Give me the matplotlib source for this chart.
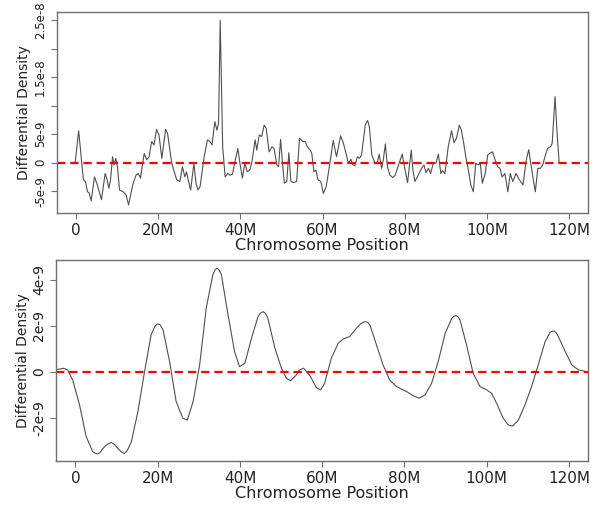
import numpy as np
import matplotlib
matplotlib.use("Agg")
import matplotlib.pyplot as plt

# raw differential density (top), positions in Mb, values in 1e-9
raw_pos = [-0.2, 0.65, 1.4, 1.8, 2.3, 2.8, 3.2, 3.7, 4.5, 5.2, 6.2, 7.1, 7.6, 8.0, 8.4,
           8.9, 9.25, 9.7, 10.1, 10.6, 11.5, 12.2, 12.8, 13.8, 14.6, 15.2, 15.7, 16.6, 17.2,
           17.8, 18.4, 19.0, 19.6, 20.2, 20.9, 21.8, 22.3, 23.3, 24.5, 25.3, 25.9, 26.5, 26.9,
           27.4, 27.9, 28.4, 28.7, 29.2, 29.7, 30.2, 31.2, 32.0, 32.6, 33.1, 33.8, 34.3, 34.7,
           35.1, 35.7, 36.3, 36.9, 37.5, 38.1, 38.6, 39.4, 39.9, 40.5, 41.1, 41.7, 42.3, 42.9,
           43.6, 44.0, 44.6, 45.2, 45.8, 46.3, 47.0, 47.7, 48.2, 48.9, 49.3, 49.8, 50.2, 50.7,
           51.3, 51.8, 52.3, 52.9, 53.7, 54.4, 55.2, 55.8, 56.3, 57.0, 57.4, 57.9, 58.4, 58.9,
           59.6, 60.2, 60.9, 61.8, 62.6, 63.4, 64.4, 65.1, 65.9, 66.3, 66.9, 67.4, 67.9, 68.5,
           69.0, 69.5, 70.4, 71.0, 71.4, 72.0, 72.8, 73.3, 73.8, 74.4, 74.8, 75.3, 75.8, 76.4,
           77.1, 77.7, 78.5, 79.4, 80.1, 80.7, 81.6, 82.0, 82.5, 83.3, 84.1, 84.7, 85.2, 85.8,
           86.3, 87.0, 87.6, 88.2, 88.8, 89.2, 89.8, 90.6, 91.4, 92.0, 92.6, 93.3, 93.8, 94.3,
           94.8, 95.5, 96.1, 96.7, 97.3, 97.9, 98.4, 98.9, 99.6, 100.2, 100.9, 101.4, 102.0,
           102.6, 103.2, 103.7, 104.4, 105.1, 105.7, 106.3, 107.1, 107.9, 108.8, 109.6, 110.2,
           110.8, 111.8, 112.4, 113.0, 113.6, 114.2, 114.8, 115.5, 115.9, 116.6, 117.1, 117.6]
raw_diff = [0.0, 5.6, -0.1, -3.0, -3.3, -5.1, -5.3, -6.7, -2.5, -3.9, -6.5, -1.9, -3.0, -4.5, -3.0,
            1.05, -0.4, 0.76, -0.7, -4.8, -5.1, -5.7, -7.4, -3.9, -2.2, -1.9, -2.7, 1.6, 0.5,
            1.05, 3.7, 3.1, 5.85, 4.85, 0.76, 5.85, 5.1, -0.1, -3.0, -3.3, -0.7, -2.5, -1.6,
            -3.3, -4.8, -1.9, -0.1, -3.6, -4.8, -4.2, 1.05, 4.0, 3.7, 3.1, 7.2, 5.7, 6.9,
            25.0, 2.8, -2.5, -1.9, -2.2, -2.0, -0.1, 2.5, -0.1, -2.7, -0.1, -1.6, -1.3, 0.5,
            4.0, 2.2, 4.85, 4.6, 6.6, 6.0, 1.9, 2.8, 2.5, -0.4, -0.7, 4.1, 0.5, -3.6,
            -3.3, 1.75, -3.3, -3.5, -3.3, 4.3, 3.7, 3.7, 2.8, 2.2, 1.6, -1.6, -1.3, -3.0,
            -3.3, -5.4, -4.2, -0.1, 3.9, 1.05, 4.7, 3.4, 1.05, -0.1, 0.6, -0.4, -0.5, 1.05,
            0.76, 1.35, 6.6, 7.4, 6.3, 1.35, -0.1, -0.1, 1.5, -1.0, 0.5, 3.3, -0.7, -2.2,
            -2.6, -2.2, -0.4, 1.5, -1.3, -3.5, 2.2, -1.3, -3.3, -2.2, -1.0, -0.4, -1.75, -1.0,
            -1.9, 0.0, -0.1, 1.5, -1.9, -1.4, -1.9, 2.8, 5.6, 3.5, 4.3, 6.6, 5.7, 3.7,
            1.35, -1.3, -3.9, -5.1, -0.1, -0.4, -0.1, -3.6, -1.9, 1.35, 1.75, 1.9, 0.5,
            -0.7, -1.0, -2.5, -1.9, -5.1, -1.9, -3.3, -1.9, -3.0, -3.9, 0.5, 2.3,
            -0.7, -5.1, -1.0, -1.0, -0.4, 1.2, 2.5, 2.8, 3.4, 11.6, 5.1, 0.0]

# smoothed differential density (bottom)
smooth_pos = [-4.9, -2.9, -1.9, -0.65, 1.0, 2.6, 4.2, 4.8, 5.3, 5.9, 6.7, 7.7, 8.7, 9.5, 10.3,
              11.2, 11.9, 12.6, 13.6, 15.2, 16.8, 18.4, 19.3, 20.0, 20.6, 21.3, 22.9, 24.5,
              26.1, 27.2, 28.6, 30.2, 31.8, 33.4, 33.9, 34.4, 34.9, 35.5, 37.1, 38.7, 39.9,
              41.2, 42.8, 44.4, 45.0, 45.6, 46.2, 46.8, 48.5, 50.1, 51.3, 52.3, 53.7, 54.5,
              55.5, 56.9, 58.6, 59.6, 60.6, 62.2, 63.9, 65.1, 66.7, 68.3, 69.4, 70.4, 71.0,
              71.6, 73.2, 74.8, 76.4, 78.1, 80.5, 82.1, 83.5, 85.0, 86.6, 88.2, 89.9, 91.5,
              92.0, 92.5, 93.0, 93.5, 95.1, 96.7, 98.4, 100.0, 101.2, 102.4, 104.0, 105.2,
              106.3, 107.7, 109.3, 110.9, 112.5, 114.2, 115.4, 115.9, 116.4, 116.9, 117.4,
              119.1, 120.7, 122.3, 124.3]
smooth_diff = [0.09, 0.16, 0.09, -0.35, -1.43, -2.8, -3.46, -3.53, -3.56, -3.52, -3.32, -3.15,
               -3.06, -3.15, -3.32, -3.48, -3.54, -3.42, -3.03, -1.72, 0.0, 1.61, 1.98, 2.09,
               2.05, 1.83, 0.45, -1.29, -2.01, -2.09, -1.29, 0.3, 2.77, 4.22, 4.43, 4.51,
               4.44, 4.22, 2.48, 0.88, 0.23, 0.38, 1.46, 2.41, 2.56, 2.62, 2.55, 2.33, 1.03,
               0.16, -0.28, -0.38, -0.13, 0.09, 0.16, -0.13, -0.68, -0.78, -0.49, 0.59, 1.25,
               1.43, 1.54, 1.9, 2.1, 2.19, 2.16, 2.04, 1.17, 0.3, -0.35, -0.64, -0.85, -1.03,
               -1.14, -1.0, -0.49, 0.45, 1.68, 2.33, 2.42, 2.45, 2.4, 2.26, 1.17, -0.06, -0.64,
               -0.78, -0.93, -1.36, -2.01, -2.30, -2.35, -2.09, -1.43, -0.64, 0.3, 1.32, 1.72,
               1.77, 1.78, 1.7, 1.54, 0.88, 0.3, 0.09, 0.01]

x_ticks = [0, 20, 40, 60, 80, 100, 120]
x_labels = ["0", "20M", "40M", "60M", "80M", "100M", "120M"]
top_yticks = [-5, 0, 5, 10, 15, 20, 25]
top_ylabels = ["-5e-9", "0", "5e-9", "", "1.5e-8", "", "2.5e-8"]
bot_yticks = [-2, 0, 2, 4]
bot_ylabels = ["-2e-9", "0", "2e-9", "4e-9"]

plt.rcParams['lines.scale_dashes'] = False

fig = plt.figure(figsize=(6.03, 5.08), dpi=100)
ax1 = fig.add_axes([0.094, 0.581, 0.881, 0.395])
ax2 = fig.add_axes([0.093, 0.092, 0.882, 0.396])


def style(ax, yt, yl, ysize):
    for s in ax.spines.values():
        s.set_color('#707070')
        s.set_linewidth(1.0)
    ax.set_xticks(x_ticks)
    ax.set_xticklabels(x_labels, fontsize=11, color='#222222')
    ax.set_yticks(yt)
    ax.set_yticklabels(yl, fontsize=ysize, rotation=90, va='center', color='#222222')
    ax.tick_params(length=4, width=0.8, color='#707070', pad=3)
    ax.set_xlim(-4.7, 124.6)
    ax.set_xlabel("Chromosome Position", fontsize=11.5, labelpad=0, color='#222222')
    ax.set_ylabel("Differential Density", fontsize=10, labelpad=2, color='#222222')
    ax.axhline(0, color='red', lw=1.6, dashes=(6, 3.5))


ax1.plot(raw_pos, raw_diff, color='#505050', lw=0.8)
style(ax1, top_yticks, top_ylabels, 8.5)
ax1.set_ylim(-8.8, 26.4)

ax2.plot(smooth_pos, smooth_diff, color='#505050', lw=0.8)
style(ax2, bot_yticks, bot_ylabels, 10)
ax2.set_ylim(-3.88, 4.86)

fig.savefig("out.png", dpi=100)
